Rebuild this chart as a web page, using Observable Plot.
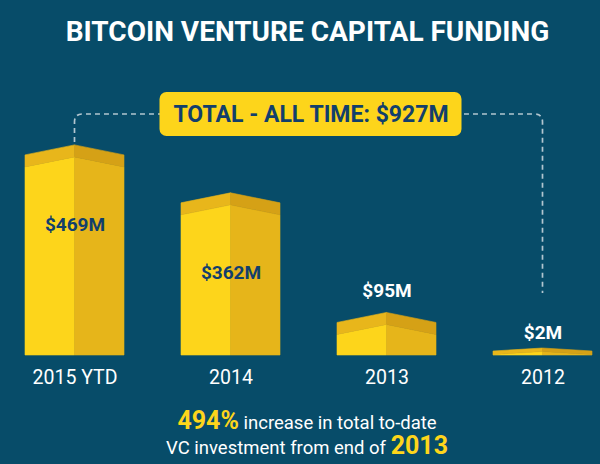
<!DOCTYPE html>
<html>
<head>
<meta charset="utf-8">
<script src="https://cdn.jsdelivr.net/npm/d3@7"></script>
<script src="https://cdn.jsdelivr.net/npm/@observablehq/plot@0.6"></script>
<style>
  html, body { margin: 0; padding: 0; background: #074c69; }
  #wrap { width: 600px; height: 464px; overflow: hidden; font-family: Roboto, "Open Sans", sans-serif; color: #fff; }
  #title { height: 56px; box-sizing: border-box; padding-top: 8px; padding-left: 15px; line-height: 48px;
           text-align: center; font-size: 28px; font-weight: 700; letter-spacing: 0px; white-space: nowrap; }
  #chart svg { display: block; }
  #caption { box-sizing: border-box; padding-top: 12px; padding-left: 14px; text-align: center; }
  .cl { height: 25px; line-height: 25px; font-size: 18.5px; white-space: nowrap; }
  .hl { color: #fdd51b; font-weight: 700; font-size: 25px; }
</style>
</head>
<body>
<div id="wrap">
  <div id="title"></div>
  <div id="chart"></div>
  <div id="caption"></div>
</div>
<script>
// ---- data ----
const years = ["2015 YTD", "2014", "2013", "2012"];
const funding = [469, 362, 95, 2];          // $M
const totalAllTime = 927;                   // $M
const increasePct = 494;                    // %
const baseYear = "2013";
const titleText = "BITCOIN VENTURE CAPITAL FUNDING";

const data = years.map((year, i) => ({year, value: funding[i]}));

// ---- colours ----
const yellow = "#fdd51b";
const frontRight = "#e6b51a";
const roofLeft = "#e8b61b";
const roofRight = "#d5a116";
const navy = "#123f6c";
const dashColor = "#b3c6d0";

document.getElementById("title").textContent = titleText;

// custom mark: 3D-looking bars, dashed bracket and total badge, placed via Plot's scales
function bars(index, scales, values, dims) {
  const {x, y} = scales;
  const bw = typeof x.bandwidth === "function" ? x.bandwidth() : x.bandwidth;
  const g = d3.create("svg:g");
  const y0 = y(0);
  const poly = (pts, fill) => g.append("path").attr("d", "M" + pts.map(p => p.join(",")).join("L") + "Z")
    .attr("fill", fill).attr("stroke", fill).attr("stroke-width", 0.6).attr("stroke-linejoin", "miter");

  // bracket
  const xl = x(years[0]) + bw / 2;
  const xr = x(years[years.length - 1]) + bw / 2;
  const yLine = dims.marginTop - 17;
  const r = 8;
  const peakFirst = y(funding[0]);
  const peakLast = y0 - Math.max(y0 - y(funding[funding.length - 1]), 7);
  g.append("path")
    .attr("d", `M${xl},${peakFirst - 3}L${xl},${yLine + r}Q${xl},${yLine} ${xl + r},${yLine}L${xr - r},${yLine}Q${xr},${yLine} ${xr},${yLine + r}L${xr},${peakLast - 55}`)
    .attr("fill", "none").attr("stroke", dashColor).attr("stroke-width", 1.7).attr("stroke-dasharray", "5 4");

  // badge
  const bxc = (xl + xr) / 2 + 2;
  g.append("rect").attr("x", bxc - 151).attr("y", yLine - 22).attr("width", 302).attr("height", 44)
    .attr("rx", 7).attr("fill", yellow);

  // bars
  data.forEach(d => {
    const x0 = x(d.year), xc = x0 + bw / 2, x1 = x0 + bw;
    const H = Math.max(y0 - y(d.value), 7);
    const top = y0 - H;
    const rise = Math.min(10, H * 0.43);
    const thick = Math.min(12, H * 0.5);
    poly([[x0, y0], [x0, top + rise + thick], [xc, top + thick], [xc, y0]], yellow);
    poly([[xc, y0], [xc, top + thick], [x1, top + rise + thick], [x1, y0]], frontRight);
    poly([[x0, top + rise], [xc, top], [xc, top + thick], [x0, top + rise + thick]], roofLeft);
    poly([[xc, top], [x1, top + rise], [x1, top + rise + thick], [xc, top + thick]], roofRight);
  });
  return g.node();
}

const chart = Plot.plot({
  width: 600,
  height: 340,
  marginLeft: 23,
  marginRight: 6,
  marginTop: 75,
  marginBottom: 41,
  style: {background: "transparent", fontFamily: "Roboto, 'Open Sans', sans-serif", overflow: "visible"},
  x: {type: "band", domain: years, paddingInner: 0.363, paddingOuter: 0, axis: null},
  y: {domain: [0, 500], axis: null},
  marks: [
    bars,
    Plot.text(data, {x: "year", y: "value", text: d => d.value, fill: "none", stroke: "none"}),
    Plot.text([`TOTAL - ALL TIME: $${totalAllTime}M`], {text: d => d, frameAnchor: "top", dy: -17, dx: 2,
      fill: navy, fontSize: 23, fontWeight: 700, lineAnchor: "middle"}),
    Plot.text(data.filter(d => d.value > 200), {x: "year", y: "value", text: d => `$${d.value}M`, dy: 80,
      fill: navy, fontSize: 19, fontWeight: 700, lineAnchor: "middle"}),
    Plot.text(data.filter(d => d.value <= 200), {x: "year", y: "value", text: d => `$${d.value}M`, dy: -22,
      fill: "#ffffff", fontSize: 19, fontWeight: 700, lineAnchor: "middle"}),
    Plot.text(data, {x: "year", y: () => 0, text: "year", dy: 22,
      fill: "#ffffff", fontSize: 19.5, fontWeight: 400, lineAnchor: "middle"})
  ]
});
document.getElementById("chart").appendChild(chart);

document.getElementById("caption").innerHTML =
  `<div class="cl"><span class="hl">${increasePct}%</span> increase in total to-date</div>` +
  `<div class="cl">VC investment from end of <span class="hl">${baseYear}</span></div>`;
</script>
</body>
</html>
